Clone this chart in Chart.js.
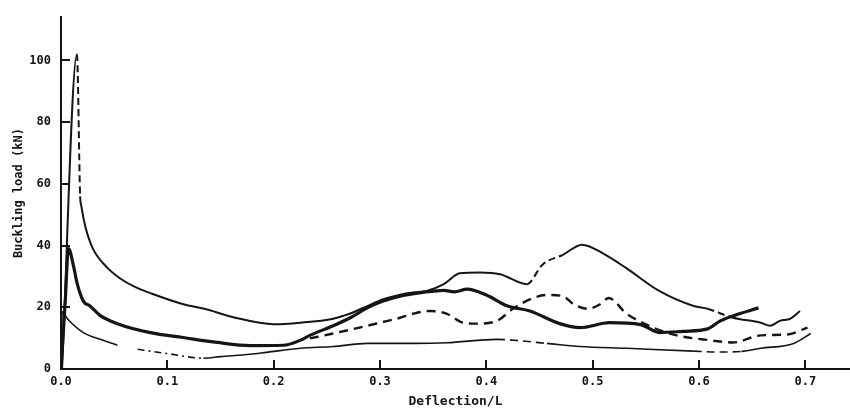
<!DOCTYPE html>
<html>
<head>
<meta charset="utf-8">
<script src="https://cdn.jsdelivr.net/npm/chart.js@4.4.1/dist/chart.umd.min.js"></script>
<style>
  html, body { margin: 0; padding: 0; background: #fff; }
  #wrap { width: 850px; height: 412px; }
</style>
</head>
<body>
<div id="wrap"><canvas id="bucklingChart"></canvas></div>
<script>
// tick labels
const xTicks = [0, 0.1, 0.2, 0.3, 0.4, 0.5, 0.6, 0.7];
const xTickLabels = ['0.0', '0.1', '0.2', '0.3', '0.4', '0.5', '0.6', '0.7'];
const yTicks = [0, 20, 40, 60, 80, 100];
const yTickLabels = ['0', '20', '40', '60', '80', '100'];

// curve A - tall peak near 100 kN, second hump near 0.5
const aX = [0.001, 0.015, 0.018, 0.019, 0.023, 0.03, 0.043, 0.055, 0.07, 0.084, 0.115, 0.135, 0.162, 0.2, 0.225, 0.256, 0.266, 0.275, 0.288, 0.303, 0.319, 0.331, 0.344, 0.36, 0.375, 0.394, 0.413, 0.438, 0.453, 0.472, 0.49, 0.51, 0.532, 0.563, 0.595, 0.608, 0.632, 0.658, 0.667, 0.676, 0.686, 0.695];
const aY = [0, 102, 56, 53, 46, 39, 33, 29.5, 26.5, 24.6, 21, 19.5, 16.8, 14.5, 15, 16.3, 17.3, 18.4, 20.4, 22.6, 24.1, 24.8, 25.3, 27.5, 31, 31.3, 30.7, 27.5, 33.9, 37, 40.3, 37.4, 32.6, 25.2, 20.4, 19.5, 16.6, 15, 14, 15.6, 16.3, 18.8];

// curve B - heavy line, peak near 40 kN
const bX = [0.0, 0.004, 0.007, 0.012, 0.015, 0.021, 0.027, 0.037, 0.053, 0.084, 0.115, 0.147, 0.178, 0.209, 0.225, 0.234, 0.256, 0.272, 0.288, 0.303, 0.319, 0.34, 0.36, 0.37, 0.382, 0.4, 0.42, 0.441, 0.469, 0.488, 0.516, 0.545, 0.563, 0.585, 0.608, 0.62, 0.632, 0.656];
const bY = [0, 22, 39, 33, 28, 22, 20.5, 17.3, 14.7, 11.8, 10.2, 8.6, 7.6, 7.7, 9.3, 10.9, 14, 16.6, 19.8, 22, 23.6, 24.8, 25.5, 25, 25.9, 24, 20.4, 18.8, 14.7, 13.4, 15, 14.4, 11.8, 12.2, 13, 15.6, 17.2, 19.8];

// curve C - dashed
const cX = [0.234, 0.256, 0.288, 0.3, 0.319, 0.331, 0.347, 0.363, 0.378, 0.391, 0.41, 0.425, 0.444, 0.457, 0.472, 0.482, 0.495, 0.507, 0.515, 0.532, 0.557, 0.579, 0.611, 0.632, 0.658, 0.683, 0.702];
const cY = [9.9, 11.5, 14, 15, 16.6, 17.9, 18.8, 17.9, 15, 14.7, 15.6, 19.5, 23, 24, 23.6, 21, 19.5, 21, 23, 17.9, 13.4, 10.9, 9.3, 8.6, 10.9, 11.2, 13.4];

// curve D - low thin line (pen lifted between 0.053 and 0.072)
const dX = [0.0, 0.001, 0.006, 0.021, 0.037, 0.053, 0.06, 0.072, 0.1, 0.134, 0.15, 0.178, 0.193, 0.225, 0.256, 0.288, 0.331, 0.363, 0.41, 0.426, 0.457, 0.488, 0.532, 0.595, 0.62, 0.64, 0.658, 0.689, 0.705];
const dY = [0, 18.5, 16.3, 11.8, 9.6, 7.7, null, 6.4, 5, 3.5, 4, 4.8, 5.4, 6.7, 7.3, 8.3, 8.3, 8.5, 9.6, 9.3, 8.3, 7.3, 6.7, 5.8, 5.5, 5.7, 6.7, 8.3, 11.5];

// dashed stretches of each curve (x ranges)
const aDashed = [[0.015, 0.018], [0.438, 0.472], [0.608, 0.632]];
const dDashDot = [[0.072, 0.134]];
const dDashed = [[0.41, 0.457], [0.595, 0.64]];

const ink = '#151515';

function pts(xs, ys) {
    return xs.map((x, i) => ({ x: x, y: ys[i] }));
}

function inside(ctx, ranges) {
    const x0 = ctx.p0.parsed.x, x1 = ctx.p1.parsed.x;
    return ranges.some(r => x0 >= r[0] - 1e-6 && x1 <= r[1] + 1e-6);
}

const innerTicks = {
    id: 'innerTicks',
    afterDraw(chart) {
        const c = chart.ctx;
        const xs = chart.scales.x, ys = chart.scales.y;
        const area = chart.chartArea;
        c.save();
        c.strokeStyle = ink;
        c.lineWidth = 2;
        c.beginPath();
        xTicks.slice(1).forEach(v => {
            const px = Math.round(xs.getPixelForValue(v));
            c.moveTo(px, area.bottom);
            c.lineTo(px, area.bottom - 9);
        });
        yTicks.slice(1).forEach(v => {
            const py = Math.round(ys.getPixelForValue(v));
            c.moveTo(area.left, py);
            c.lineTo(area.left + 9, py);
        });
        c.stroke();
        c.restore();
    }
};

const line = (data, width, extra) => Object.assign({
    data: data,
    showLine: true,
    borderColor: ink,
    borderWidth: width,
    pointRadius: 0,
    fill: false,
    cubicInterpolationMode: 'monotone',
    spanGaps: false
}, extra || {});

new Chart(document.getElementById('bucklingChart'), {
    type: 'scatter',
    data: {
        datasets: [
            line(pts(aX, aY), 2, { segment: { borderDash: ctx => inside(ctx, aDashed) ? [7, 4] : undefined } }),
            line(pts(bX, bY), 3.2),
            line(pts(cX, cY), 2.4, { borderDash: [9, 6] }),
            line(pts(dX, dY), 1.6, {
                segment: {
                    borderDash: ctx => inside(ctx, dDashDot) ? [7, 4, 2, 4] : (inside(ctx, dDashed) ? [8, 5] : undefined)
                }
            })
        ]
    },
    options: {
        responsive: true,
        maintainAspectRatio: false,
        animation: false,
        layout: { padding: { top: 12, right: 0, left: 0, bottom: 0 } },
        plugins: { legend: { display: false }, tooltip: { enabled: false } },
        scales: {
            x: {
                type: 'linear',
                min: 0,
                max: 0.742,
                afterFit: s => { s.height = 43; },
                afterBuildTicks: s => { s.ticks = xTicks.map(v => ({ value: v })); },
                grid: { drawOnChartArea: false, drawTicks: false },
                border: { display: true, color: ink, width: 2 },
                ticks: {
                    color: ink,
                    padding: 6,
                    maxRotation: 0,
                    font: { family: 'DejaVu Sans Mono', size: 12, weight: 'bold' },
                    callback: (v, i) => xTickLabels[i]
                },
                title: {
                    display: true,
                    text: 'Deflection/L',
                    color: ink,
                    padding: { top: 0, bottom: 3 },
                    font: { family: 'DejaVu Sans Mono', size: 13, weight: 'bold' }
                }
            },
            y: {
                min: 0,
                max: 114,
                afterFit: s => { s.width = 61; },
                afterBuildTicks: s => { s.ticks = yTicks.map(v => ({ value: v })); },
                grid: { drawOnChartArea: false, drawTicks: false },
                border: { display: true, color: ink, width: 2 },
                ticks: {
                    color: ink,
                    padding: 10,
                    font: { family: 'DejaVu Sans Mono', size: 12, weight: 'bold' },
                    callback: (v, i) => yTickLabels[i]
                },
                title: {
                    display: true,
                    text: 'Buckling load (kN)',
                    color: ink,
                    padding: { top: 12, bottom: 0 },
                    font: { family: 'DejaVu Sans Mono', size: 12, weight: 'bold' }
                }
            }
        }
    },
    plugins: [innerTicks]
});
</script>
</body>
</html>
